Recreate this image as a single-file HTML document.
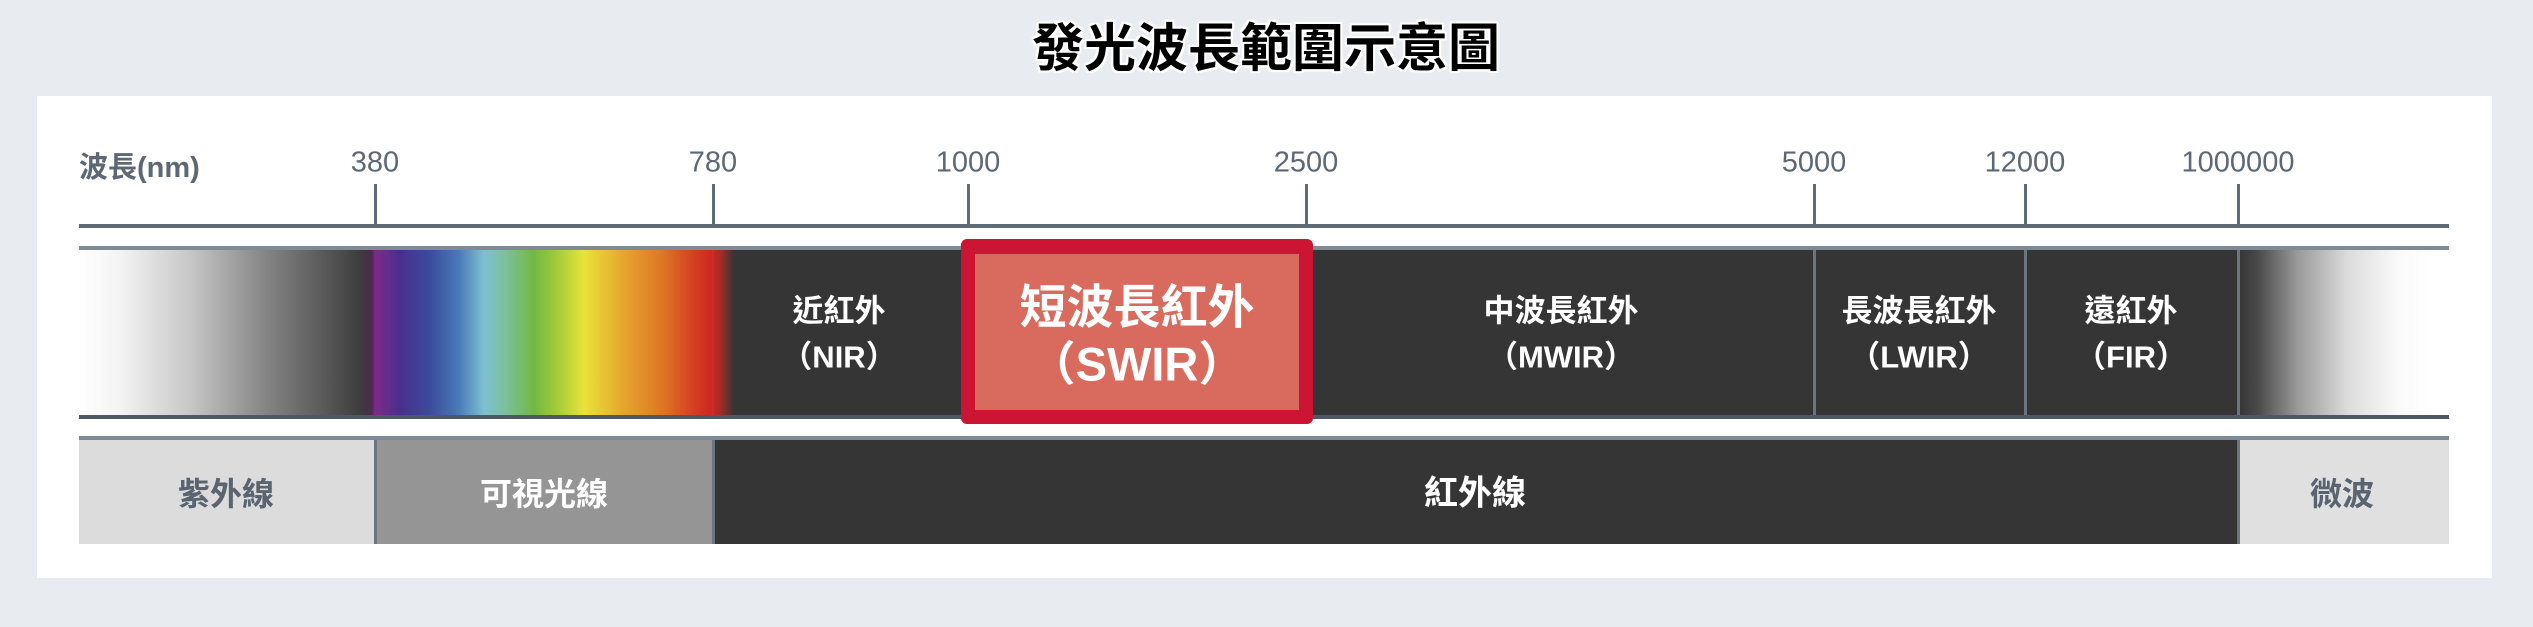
<!DOCTYPE html>
<html><head><meta charset="utf-8"><style>
*{margin:0;padding:0;box-sizing:border-box}
body{width:2533px;height:627px;background:#e8ebf0;position:relative;overflow:hidden;font-family:"Liberation Sans","Noto Sans CJK TC",sans-serif}
.a{position:absolute}
.t{position:absolute;text-align:center;white-space:nowrap;transform:translate(-50%,-50%);font-weight:bold}
.lbl{color:#5d6874;font-size:29px}
.w{color:#fff}
.tick{position:absolute;top:184px;height:42px;width:3px;background:#5f6b78;margin-left:-1px}
.vl{position:absolute;width:3px;background:#6b7580;margin-left:-1px}
</style></head><body>
<div class="t" style="left:1266px;top:44px;font-size:52px;color:#000;text-shadow:0 0 4px #fff,0 0 4px #fff,2px 2px 0 #fff,-2px -2px 0 #fff,2px -2px 0 #fff,-2px 2px 0 #fff">發光波長範圍示意圖</div>
<div class="a" style="left:37px;top:96px;width:2455px;height:482px;background:#fff"></div>

<div class="a lbl" style="left:79px;top:144px;font-weight:bold">波長(nm)</div>
<div class="t lbl" style="left:375px;top:163px;font-weight:normal">380</div>
<div class="t lbl" style="left:713px;top:163px;font-weight:normal">780</div>
<div class="t lbl" style="left:968px;top:163px;font-weight:normal">1000</div>
<div class="t lbl" style="left:1306px;top:163px;font-weight:normal">2500</div>
<div class="t lbl" style="left:1814px;top:163px;font-weight:normal">5000</div>
<div class="t lbl" style="left:2025px;top:163px;font-weight:normal">12000</div>
<div class="t lbl" style="left:2238px;top:163px;font-weight:normal">1000000</div>
<div class="tick" style="left:375px"></div><div class="tick" style="left:713px"></div><div class="tick" style="left:968px"></div><div class="tick" style="left:1306px"></div><div class="tick" style="left:1814px"></div><div class="tick" style="left:2025px"></div><div class="tick" style="left:2238px"></div>
<div class="a" style="left:79px;top:224px;width:2370px;height:4px;background:#5f6b78"></div>

<!-- spectrum band -->
<div class="a" style="left:79px;top:246px;width:2370px;height:4px;background:#808a94"></div>
<div class="a" style="left:79px;top:250px;width:2370px;height:166px;background:#353535"></div>
<div class="a" style="left:79px;top:250px;width:655px;height:166px;background:linear-gradient(90deg,#fff 0px,#f4f4f4 40px,#c8c8c8 110px,#8a8a8a 180px,#555 250px,#3e3e3e 280px,#4a2a4a 292px,#7b2a8a 298px,#4a2f8c 320px,#3a4a9c 350px,#4a7ab8 380px,#7ec0d0 405px,#7cc0a0 425px,#72b842 455px,#9cc93a 475px,#e8e33a 505px,#e6a52e 545px,#dc7524 585px,#d44422 612px,#ce2a20 630px,#b02a22 640px,#353535 655px)"></div>
<div class="a" style="left:2238px;top:250px;width:211px;height:166px;background:linear-gradient(90deg,#353535 0px,#4a4a4a 20px,#9a9a9a 60px,#dcdcdc 110px,#fafafa 160px,#fff 190px)"></div>
<div class="vl" style="left:375px;top:250px;height:166px;background:#7a2a86;width:2px"></div>
<div class="vl" style="left:713px;top:250px;height:166px;background:#d02a2a;width:2px"></div>
<div class="vl" style="left:1814px;top:250px;height:166px"></div>
<div class="vl" style="left:2025px;top:250px;height:166px"></div>
<div class="vl" style="left:2238px;top:250px;height:166px"></div>
<div class="a" style="left:79px;top:415px;width:2370px;height:4px;background:#4f5965"></div>

<div class="t w" style="left:839px;top:308px;font-size:31px">近紅外</div>
<div class="t w" style="left:839px;top:354px;font-size:31px">（NIR）</div>
<div class="a" style="left:961px;top:239px;width:352px;height:185px;background:#d96a5e;border:14px solid #cc1533;border-top-width:15px;border-radius:6px"></div>
<div class="t w" style="left:1137px;top:303px;font-size:47px">短波長紅外</div>
<div class="t w" style="left:1137px;top:360px;font-size:47px">（SWIR）</div>
<div class="t w" style="left:1561px;top:308px;font-size:31px">中波長紅外</div>
<div class="t w" style="left:1561px;top:354px;font-size:31px">（MWIR）</div>
<div class="t w" style="left:1919px;top:308px;font-size:31px">長波長紅外</div>
<div class="t w" style="left:1919px;top:354px;font-size:31px">（LWIR）</div>
<div class="t w" style="left:2131px;top:308px;font-size:31px">遠紅外</div>
<div class="t w" style="left:2131px;top:354px;font-size:31px">（FIR）</div>

<!-- bottom band -->
<div class="a" style="left:79px;top:436px;width:2370px;height:4px;background:#808a94"></div>
<div class="a" style="left:79px;top:440px;width:296px;height:104px;background:#dcdcdc"></div>
<div class="a" style="left:375px;top:440px;width:338px;height:104px;background:#959595"></div>
<div class="a" style="left:713px;top:440px;width:1525px;height:104px;background:#353535"></div>
<div class="a" style="left:2238px;top:440px;width:211px;height:104px;background:#e0e0e0"></div>
<div class="vl" style="left:375px;top:440px;height:104px"></div>
<div class="vl" style="left:713px;top:440px;height:104px"></div>
<div class="vl" style="left:2238px;top:440px;height:104px"></div>
<div class="t" style="left:226px;top:492px;font-size:32px;color:#5a6470">紫外線</div>
<div class="t w" style="left:544px;top:492px;font-size:32px">可視光線</div>
<div class="t w" style="left:1475px;top:490px;font-size:34px">紅外線</div>
<div class="t" style="left:2342px;top:492px;font-size:32px;color:#5a6470">微波</div>
</body></html>
